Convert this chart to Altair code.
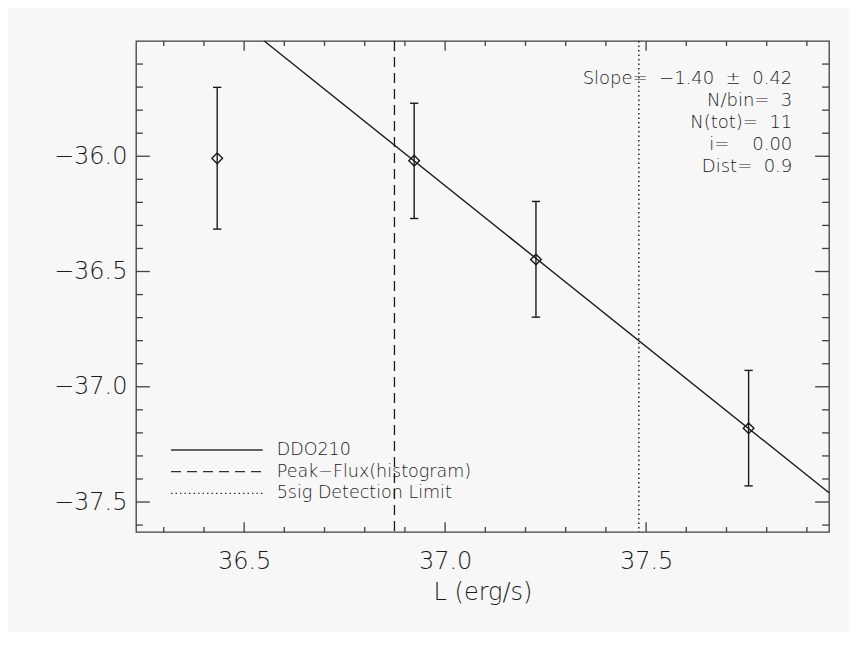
import altair as alt
import pandas as pd

# ---- data ----
pt_x = [36.433, 36.923, 37.226, 37.755]
pt_y = [-36.009, -36.019, -36.448, -37.180]
err_lo = [-36.316, -36.270, -36.698, -37.430]
err_hi = [-35.701, -35.770, -36.196, -36.929]

fit_x = [36.550, 37.955]
fit_y = [-35.50, -37.46]

peak_flux_x = [36.874]
detect_limit_x = [37.482]

x_major = [36.5, 37.0, 37.5]
x_minor = [36.3, 36.4, 36.6, 36.7, 36.8, 36.9, 37.1, 37.2, 37.3, 37.4,
           37.6, 37.7, 37.8, 37.9]
y_major = [-37.5, -37.0, -36.5, -36.0]
y_minor = [-37.6, -37.4, -37.3, -37.2, -37.1, -36.9, -36.8, -36.7, -36.6,
           -36.4, -36.3, -36.2, -36.1, -35.9, -35.8, -35.7, -35.6]

legend_labels = ["DDO210", "Peak\u2212Flux(histogram)", "5sig Detection Limit"]
legend_rows = [0, 1, 2]

annot_lines = ["Slope=\u00a0 \u22121.40\u00a0 \u00b1\u00a0 0.42",
               "N/bin=\u00a0 3",
               "N(tot)=\u00a0 11",
               "i=\u00a0 \u00a0 0.00",
               "Dist=\u00a0 0.9"]
annot_rows = [0, 1, 2, 3, 4]

# ---- styling ----
W, H = 693, 491
FONT = "DejaVu Sans"
TXT = "#1c1c1c"
INK = "#1a1a1a"
BOX = "#404040"
BG = "#f7f7f7"

x_dom = [36.231, 37.955]
y_dom = [-37.63, -35.50]

xs = alt.Scale(domain=x_dom, nice=False, zero=False)
ys = alt.Scale(domain=y_dom, nice=False, zero=False)

x_axis = alt.Axis(values=x_major, format=".1f", ticks=False, domain=False,
                  grid=False, labelFontSize=24, labelFont=FONT,
                  labelFontWeight=200, labelColor=TXT, labelPadding=17,
                  tickSize=0, title="L (erg/s)", titleFont=FONT,
                  titleFontSize=24, titleFontWeight=200, titleColor=TXT,
                  titleY=67, titleBaseline="alphabetic", labelFlush=False)
y_axis = alt.Axis(values=y_major, ticks=False, domain=False, grid=False,
                  labelExpr="replace(format(datum.value, '.1f'), '-', '\u2212')",
                  labelFontSize=24, labelFont=FONT, labelFontWeight=200,
                  labelColor=TXT, labelPadding=9, tickSize=0, title="",
                  labelFlush=False)


def X(field="x"):
    return alt.X(f"{field}:Q", scale=xs, axis=x_axis)


def Y(field="y"):
    return alt.Y(f"{field}:Q", scale=ys, axis=y_axis)


pts = pd.DataFrame({"x": pt_x, "y": pt_y, "lo": err_lo, "hi": err_hi})
fit = pd.DataFrame({"x": fit_x, "y": fit_y})

# error bars
bars = alt.Chart(pts).mark_rule(color=INK, strokeWidth=1.4).encode(
    x=X(), y=alt.Y("lo:Q", scale=ys, axis=y_axis), y2="hi:Q")
cap_lo = alt.Chart(pts).mark_point(shape="stroke", size=69, color=INK,
                                   strokeWidth=1.4, opacity=1).encode(
    x=X(), y=alt.Y("lo:Q", scale=ys, axis=y_axis))
cap_hi = alt.Chart(pts).mark_point(shape="stroke", size=69, color=INK,
                                   strokeWidth=1.4, opacity=1).encode(
    x=X(), y=alt.Y("hi:Q", scale=ys, axis=y_axis))
diamonds = alt.Chart(pts).mark_point(shape="diamond", size=114, filled=False,
                                     color=INK, strokeWidth=1.4,
                                     opacity=1).encode(x=X(), y=Y())

fit_line = alt.Chart(fit).mark_line(color=INK, strokeWidth=1.4).encode(
    x=X(), y=Y())

peak = alt.Chart(pd.DataFrame({"x": peak_flux_x})).mark_rule(
    color=INK, strokeWidth=1.3, strokeDash=[10, 6]).encode(x=X())
limit = alt.Chart(pd.DataFrame({"x": detect_limit_x})).mark_rule(
    color=INK, strokeWidth=1.4, strokeDash=[1.5, 3]).encode(x=X())

# tick marks (inward, on all four sides)
xmaj = pd.DataFrame({"x": x_major})
xmin = pd.DataFrame({"x": x_minor})
ymaj = pd.DataFrame({"y": y_major})
ymin = pd.DataFrame({"y": y_minor})

XT_MAJ, XT_MIN, YT_MAJ, YT_MIN = 9.8, 4.9, 13.9, 6.9


def xticks(df, ln):
    b = alt.Chart(df).mark_rule(color=BOX, strokeWidth=1.3).encode(
        x=X(), y=alt.value(H), y2=alt.value(H - ln))
    t = alt.Chart(df).mark_rule(color=BOX, strokeWidth=1.3).encode(
        x=X(), y=alt.value(0), y2=alt.value(ln))
    return [b, t]


def yticks(df, ln):
    l = alt.Chart(df).mark_rule(color=BOX, strokeWidth=1.3).encode(
        y=Y(), x=alt.value(0), x2=alt.value(ln))
    r = alt.Chart(df).mark_rule(color=BOX, strokeWidth=1.3).encode(
        y=Y(), x=alt.value(W), x2=alt.value(W - ln))
    return [l, r]


ticks = (xticks(xmaj, XT_MAJ) + xticks(xmin, XT_MIN)
         + yticks(ymaj, YT_MAJ) + yticks(ymin, YT_MIN))

main = alt.layer(diamonds, bars, cap_lo, cap_hi, fit_line, peak, limit,
                 *ticks)

# legend (drawn like the original, lines + labels)
leg = pd.DataFrame({"label": legend_labels, "row": legend_rows})
leg_y = alt.Y("row:Q", scale=alt.Scale(domain=[0, 2], range=[409, 452.3]),
              axis=None)
leg_lines = alt.Chart(leg).mark_rule(color="#333333", strokeWidth=1.3).encode(
    y=leg_y, x=alt.value(35), x2=alt.value(126.7),
    strokeDash=alt.StrokeDash("label:N", scale=alt.Scale(
        domain=legend_labels, range=[[1, 0], [10, 6], [1.5, 3]]), legend=None))
leg_text = alt.Chart(leg).mark_text(align="left", baseline="middle",
                                    font=FONT, fontSize=17.5, fontWeight=200,
                                    color=TXT).encode(
    y=leg_y, x=alt.value(140.7), text="label:N")
legend = alt.layer(leg_lines, leg_text)

# annotation block (top right)
ann = pd.DataFrame({"text": annot_lines, "row": annot_rows})
ann_y = alt.Y("row:Q", scale=alt.Scale(domain=[0, 4], range=[38.3, 125.7]),
              axis=None)
annot = alt.Chart(ann).mark_text(align="right", baseline="middle", font=FONT,
                                 fontSize=18, fontWeight=200,
                                 color=TXT).encode(
    y=ann_y, x=alt.value(656.3), text="text:N")

chart = alt.layer(main, legend, annot).resolve_scale(
    y="independent", strokeDash="independent"
).properties(
    width=W, height=H,
    autosize=alt.AutoSizeParams(type="none"),
    padding={"left": 128, "top": 33, "right": 20, "bottom": 100},
    background=BG,
).configure_view(stroke=BOX, strokeWidth=1.3)

chart.save("out.html", embed_options={"renderer": "svg", "actions": False})
